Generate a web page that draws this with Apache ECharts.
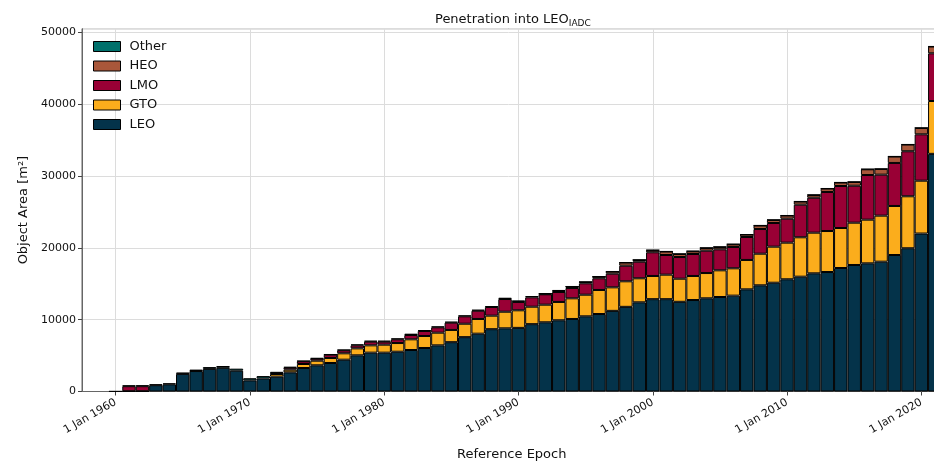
<!DOCTYPE html>
<html>
<head>
<meta charset="utf-8">
<script src="https://cdn.jsdelivr.net/npm/echarts@6/dist/echarts.min.js"></script>
<style>
html,body{margin:0;padding:0;background:#fff;}
#chart{width:934px;height:461px;}
</style>
</head>
<body>
<div id="chart"></div>
<script>
var years = [];
for (var y = 1958; y <= 2021; y++) years.push(String(y));

var tickYears = ['1960','1970','1980','1990','2000','2010','2020'];

var LEO = ['-','-',30,40,40,880,1000,2450,2850,3150,3300,2900,1550,1820,2070,2670,3270,3650,3970,4430,5040,5410,5410,5540,5780,6060,6430,6870,7570,8050,8680,8800,8860,9380,9640,9920,10100,10470,10790,11230,11790,12420,12860,12860,12490,12740,12980,13160,13350,14230,14790,15150,15630,15990,16460,16640,17200,17620,17850,18080,19010,19950,22000,33100];
var GTO = ['-','-','-','-','-','-','-','-','-','-','-','-','-','-',370,370,560,640,700,890,970,1020,1110,1210,1490,1670,1760,1700,1870,2050,1880,2310,2450,2430,2450,2550,2880,3010,3350,3280,3560,3350,3230,3410,3220,3350,3520,3720,3810,4090,4400,5020,5100,5490,5660,5710,5570,5890,6080,6410,6830,7240,7360,7360];
var LMO = ['-','-','-',700,700,'-','-','-','-','-','-','-','-','-',100,270,380,280,460,420,420,510,420,520,600,700,750,1020,1030,1150,1210,1770,1160,1310,1450,1390,1440,1590,1630,1900,2170,2310,3300,2740,3020,3060,3110,2920,2970,3200,3440,3300,3340,4540,4870,5440,5850,5150,6220,5710,5990,6270,6460,6640];
var HEO = ['-','-','-','-','-','-','-','-','-','-','-','-','-','-','-','-','-','-','-','-','-','-','-','-','-','-','-','-','-','-','-','-','-','-',60,150,190,180,230,290,430,240,280,480,420,380,380,330,370,330,480,420,430,430,380,470,480,520,800,790,890,930,880,940];
var OTHER = ['-','-','-',100,120,120,140,200,200,250,250,280,300,330,200,120,50,90,50,80,130,130,130,120,180,130,120,130,130,140,130,180,220,180,60,120,30,30,30,30,30,30,30,30,30,30,30,30,30,30,30,30,30,30,30,30,30,30,30,30,30,30,30,30];

var colors = {LEO:'#04334A', GTO:'#FBAD1C', LMO:'#990035', HEO:'#A9573A', Other:'#00706B'};

function mkSeries(name, data, extra) {
  var s = {
    name: name, type: 'bar', stack: 'total', data: data,
    barCategoryGap: '0%', z: 3,
    itemStyle: {color: colors[name], borderColor: '#000', borderWidth: 1},
    emphasis: {disabled: true}
  };
  if (extra) for (var k in extra) s[k] = extra[k];
  return s;
}

var chart = echarts.init(document.getElementById('chart'), null, {renderer: 'canvas'});
var font = 'DejaVu Sans';
var option = {
  animation: false,
  textStyle: {fontFamily: font},
  title: {
    text: '{m|Penetration into LEO}{s|IADC}',
    left: 430, top: 7,
    textStyle: {
      fontWeight: 'normal',
      rich: {
        m: {fontFamily: font, fontSize: 13, fontWeight: 'normal', color: '#111', lineHeight: 16},
        s: {fontFamily: font, fontSize: 9, fontWeight: 'normal', color: '#111', lineHeight: 16, verticalAlign: 'bottom', padding: [6,0,0,0]}
      }
    }
  },
  legend: {
    data: ['Other','HEO','LMO','GTO','LEO'],
    orient: 'vertical', left: 93, top: 40, padding: 0,
    itemWidth: 27, itemHeight: 10, itemGap: 6.5,
    icon: 'rect',
    itemStyle: {borderColor: '#000', borderWidth: 1},
    textStyle: {fontFamily: font, fontSize: 13, color: '#111', padding: [0,0,0,4]}
  },
  grid: {left: 82, right: -7.5, top: 28.7, bottom: 69.5, show: true, borderColor: '#666', borderWidth: 1,
    containLabel: false, outerBoundsMode: 'none'},
  xAxis: {
    type: 'category', data: years,
    name: 'Reference Epoch', nameLocation: 'middle', nameGap: 57,
    nameTextStyle: {fontFamily: font, fontSize: 13, color: '#111'},
    axisLine: {lineStyle: {color: '#666', width: 1}},
    axisTick: {show: true, alignWithLabel: true, length: 4, lineStyle: {color: '#444'},
      interval: function (i, v) { return tickYears.indexOf(v) >= 0; }},
    axisLabel: {rotate: 30, fontFamily: font, fontSize: 11, color: '#111', margin: 10,
      interval: function (i, v) { return tickYears.indexOf(v) >= 0; },
      formatter: function (v) { return '1 Jan ' + v; }},
    splitLine: {show: false}
  },
  yAxis: {
    type: 'value', min: 0, max: 50530, interval: 10000,
    name: 'Object Area [m²]', nameLocation: 'middle', nameGap: 52,
    nameTextStyle: {fontFamily: font, fontSize: 13, color: '#111'},
    axisLine: {show: true, lineStyle: {color: '#666', width: 1}},
    axisTick: {show: true, length: 4, lineStyle: {color: '#444'}},
    axisLabel: {fontFamily: font, fontSize: 11, color: '#111', margin: 6,
      formatter: function (v) { return String(v); }},
    splitLine: {show: true, lineStyle: {color: '#dcdcdc', width: 1}}
  },
  series: [
    mkSeries('LEO', LEO, {
      markLine: {
        silent: true, symbol: 'none', z: 1, animation: false,
        label: {show: false},
        lineStyle: {color: '#dcdcdc', type: 'solid', width: 1},
        data: tickYears.map(function (t) { return {xAxis: t}; })
      }
    }),
    mkSeries('GTO', GTO),
    mkSeries('LMO', LMO),
    mkSeries('HEO', HEO),
    mkSeries('Other', OTHER)
  ]
};
chart.setOption(option);
</script>
</body>
</html>
